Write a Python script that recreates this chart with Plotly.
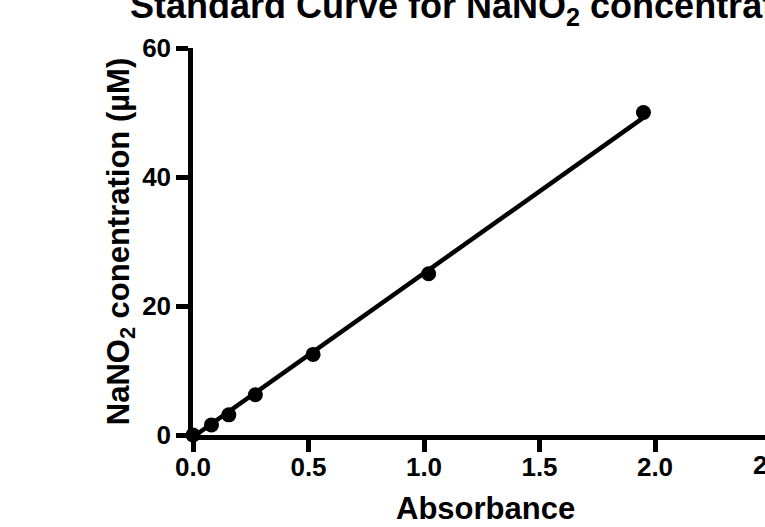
import plotly.graph_objects as go

# Data
absorbance = [0.0, 0.08, 0.155, 0.27, 0.52, 1.02, 1.95]
concentration = [0.0, 1.5625, 3.125, 6.25, 12.5, 25.0, 50.0]
fit_x = [0.0, 1.95]
fit_y = [-0.3, 49.2]
x_ticks = [0.0, 0.5, 1.0, 1.5, 2.0]
x_tick_labels = ["0.0", "0.5", "1.0", "1.5", "2.0"]
y_ticks = [0, 20, 40, 60]
y_tick_labels = ["0", "20", "40", "60"]

FONT = "Arial, Liberation Sans, sans-serif"

fig = go.Figure()
fig.add_trace(go.Scatter(x=fit_x, y=fit_y, mode="lines",
                         line=dict(color="black", width=4.5), cliponaxis=False,
                         showlegend=False))
fig.add_trace(go.Scatter(x=absorbance, y=concentration, mode="markers",
                         marker=dict(color="black", size=15), cliponaxis=False,
                         showlegend=False))

W, H = 765, 527
left, right_px = 193, 765
x_per_px = 2.5 / 577.5
xmax = (right_px - left) * x_per_px

fig.update_layout(
    width=W, height=H,
    margin=dict(l=left, r=0, t=48, b=92),
    plot_bgcolor="white", paper_bgcolor="white",
    font=dict(family=FONT, color="black"),
    xaxis=dict(range=[0, xmax], tickvals=x_ticks, ticktext=x_tick_labels,
               showgrid=False, zeroline=False, showline=True, linecolor="black",
               linewidth=4.5, ticks="outside", ticklen=12, tickwidth=4.5,
               tickcolor="black", ticklabelstandoff=-7,
               tickfont=dict(size=26, family=FONT, weight="bold")),
    yaxis=dict(range=[0, 60], tickvals=y_ticks, ticktext=y_tick_labels,
               showgrid=False, zeroline=False, showline=True, linecolor="black",
               linewidth=4.5, ticks="outside", ticklen=12, tickwidth=4.5,
               tickcolor="black",
               tickfont=dict(size=26, family=FONT, weight="bold"),
               title=dict(text="<b>NaNO<sub>2</sub> conentration (µM)</b>",
                          font=dict(size=31), standoff=5)),
)

# x-axis title (centred on the full, partly hidden axis)
fig.add_annotation(x=(486 - left) / (W - left), xref="paper", y=0, yref="paper",
                   yshift=-73, yanchor="middle", xanchor="center", showarrow=False,
                   text="<b>Absorbance</b>", font=dict(size=31, family=FONT))

# partial 2.5 tick label lying beyond the visible edge
fig.add_annotation(x=2.5 / xmax, xref="paper", y=0, yref="paper", yshift=-13,
                   yanchor="top", xanchor="center", showarrow=False,
                   text="<b>2.5</b>", font=dict(size=26, family=FONT))

# title, clipped at the top of the image
fig.add_annotation(x=0.5, xref="paper", y=1, yref="paper", yshift=15,
                   yanchor="bottom", xanchor="center", showarrow=False,
                   text="<b>Standard Curve for NaNO<sub>2</sub> concentration</b>",
                   font=dict(size=36, family=FONT))

fig.write_html("out.html", config={"displayModeBar": False},
               post_script="document.body.style.margin='0';")
